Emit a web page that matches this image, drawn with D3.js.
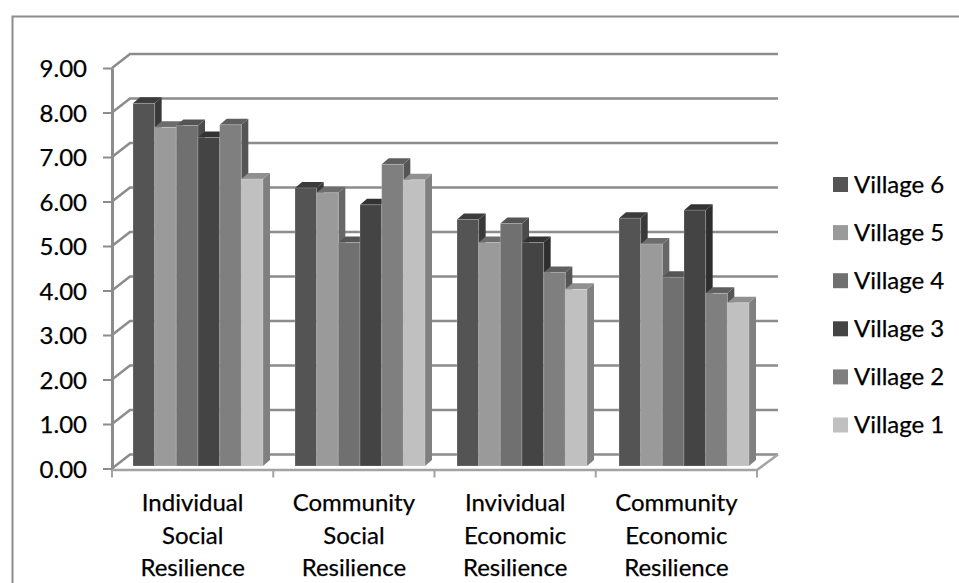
<!DOCTYPE html>
<html>
<head>
<meta charset="utf-8">
<script src="https://cdn.jsdelivr.net/npm/d3@7"></script>
<style>
  html, body { margin: 0; padding: 0; background: #fff; overflow: hidden; }
  svg { display: block; }
  text { font-family: Lato, "Open Sans", sans-serif; fill: #000; stroke: #000; stroke-width: 0.25px; }
</style>
</head>
<body>
<svg id="chart" width="959" height="583"></svg>
<script>
// Values
const categories = [
  ["Individual", "Social", "Resilience"],
  ["Community", "Social", "Resilience"],
  ["Invividual", "Economic", "Resilience"],
  ["Community", "Economic", "Resilience"],
];
const seriesNames = ["Village 6", "Village 5", "Village 4", "Village 3", "Village 2", "Village 1"];
const village6 = [8.15, 6.25, 5.54, 5.57];
const village5 = [7.61, 6.14, 5.02, 4.99];
const village4 = [7.65, 5.02, 5.45, 4.24];
const village3 = [7.38, 5.87, 5.02, 5.75];
const village2 = [7.67, 6.78, 4.35, 3.88];
const village1 = [6.45, 6.43, 3.97, 3.67];
const yTicks = [0, 1, 2, 3, 4, 5, 6, 7, 8, 9];

const seriesValues = [village6, village5, village4, village3, village2, village1];
const frontColors = ["#545454", "#9a9a9a", "#707070", "#444444", "#7f7f7f", "#c0c0c0"];
const sideColors = ["#393939", "#676767", "#4b4b4b", "#2e2e2e", "#555555", "#808080"];
const topColors = ["#3c3c3c", "#6d6d6d", "#555555", "#333333", "#5f5f5f", "#909090"];

const svg = d3.select("#chart");
const lineColor = "#8c8c8c";
const fontSize = "24px";

// Chart frame runs off the right and bottom of the picture
svg.append("path")
  .attr("d", "M960,16.5H12.5V584")
  .attr("fill", "none")
  .attr("stroke", lineColor)
  .attr("stroke-width", 2);

// Scales
const left = 112, right = 757, y0 = 468.5, y9 = 68;
const wallX = 18, wallY = 14;   // back wall offset
const depthX = 7, depthY = 6;   // bar depth
const barLift = 2.5;            // bars stand a bit back from the front edge

const yScale = d3.scaleLinear().domain([0, 9]).range([y0, y9]);
const xAxisScale = d3.scaleBand().domain(d3.range(categories.length)).range([left, right]);
const xGroup = d3.scaleBand().domain(d3.range(categories.length)).range([117, 765]);
const xBar = d3.scaleBand().domain(d3.range(seriesNames.length))
  .range([16, xGroup.bandwidth() - 16]);

// Back wall gridlines and the slanted bits on the side wall
const grid = svg.append("g")
  .attr("fill", "none")
  .attr("stroke", lineColor)
  .attr("stroke-width", 2.5);

grid.selectAll(".wall")
  .data(yTicks)
  .join("path")
  .attr("class", "wall")
  .attr("d", (d) => {
    const y = yScale(d);
    return `M${left},${y}L${left + wallX},${y - wallY}H${right + wallX + 3}`;
  });

// Floor
svg.append("path")
  .attr("d", `M${left},${y0 + 1.5}H${right}L${right + wallX + 3},${y0 - wallY}`)
  .attr("fill", "none")
  .attr("stroke", "#a3a3a3")
  .attr("stroke-width", 2.5);

// Y axis
const yAxisG = svg.append("g")
  .attr("transform", `translate(${left},0)`)
  .call(d3.axisLeft(yScale).tickValues(yTicks).tickSize(9).tickSizeOuter(0).tickPadding(16)
    .tickFormat(d3.format(".2f")));
yAxisG.select(".domain").attr("stroke", lineColor).attr("stroke-width", 3);
yAxisG.selectAll(".tick line").attr("stroke", lineColor).attr("stroke-width", 2);
yAxisG.selectAll(".tick text").style("font-size", fontSize).attr("dy", "0.36em");

// X axis ticks
svg.append("g")
  .selectAll("line")
  .data(d3.range(categories.length + 1))
  .join("line")
  .attr("x1", (d) => left + d * xAxisScale.step())
  .attr("x2", (d) => left + d * xAxisScale.step())
  .attr("y1", y0 + 1.5)
  .attr("y2", y0 + 9)
  .attr("stroke", "#a3a3a3")
  .attr("stroke-width", 2);

// X labels
const xLabels = svg.append("g")
  .selectAll("text")
  .data(categories)
  .join("text")
  .attr("text-anchor", "middle")
  .style("font-size", fontSize);

xLabels.selectAll("tspan")
  .data((d, i) => d.map((line) => ({ line, i })))
  .join("tspan")
  .attr("x", (d) => xAxisScale(d.i) + xAxisScale.bandwidth() / 2)
  .attr("y", (d, j) => 511 + j * 32.5)
  .text((d) => d.line);

// Bars, left to right so the next bar covers the side of the previous one
const base = y0 - barLift;
categories.forEach((c, ci) => {
  const group = svg.append("g").attr("transform", `translate(${xGroup(ci)},0)`);
  seriesNames.forEach((s, si) => {
    const x = xBar(si);
    const w = xBar.bandwidth();
    const y = yScale(seriesValues[si][ci]) - barLift;
    group.append("path")
      .attr("fill", sideColors[si])
      .attr("d", `M${x + w},${y}l${depthX},${-depthY}V${base - depthY}L${x + w},${base}Z`);
    group.append("path")
      .attr("fill", topColors[si])
      .attr("d", `M${x},${y}l${depthX},${-depthY}h${w}l${-depthX},${depthY}Z`);
    group.append("rect")
      .attr("x", x)
      .attr("y", y)
      .attr("width", w)
      .attr("height", base - y)
      .attr("fill", frontColors[si])
      .attr("stroke", "#fff")
      .attr("stroke-opacity", 0.2)
      .attr("stroke-width", 1);
  });
});

// Legend
const legendY = d3.scalePoint().domain(seriesNames).range([184.5, 425]);
const legend = svg.append("g")
  .selectAll("g")
  .data(seriesNames)
  .join("g")
  .attr("transform", (d) => `translate(833,${legendY(d)})`);
legend.append("rect")
  .attr("y", -7.5)
  .attr("width", 15)
  .attr("height", 15)
  .attr("fill", (d, i) => frontColors[i]);
legend.append("text")
  .attr("x", 21)
  .attr("y", 8)
  .style("font-size", fontSize)
  .text((d) => d);
</script>
</body>
</html>
